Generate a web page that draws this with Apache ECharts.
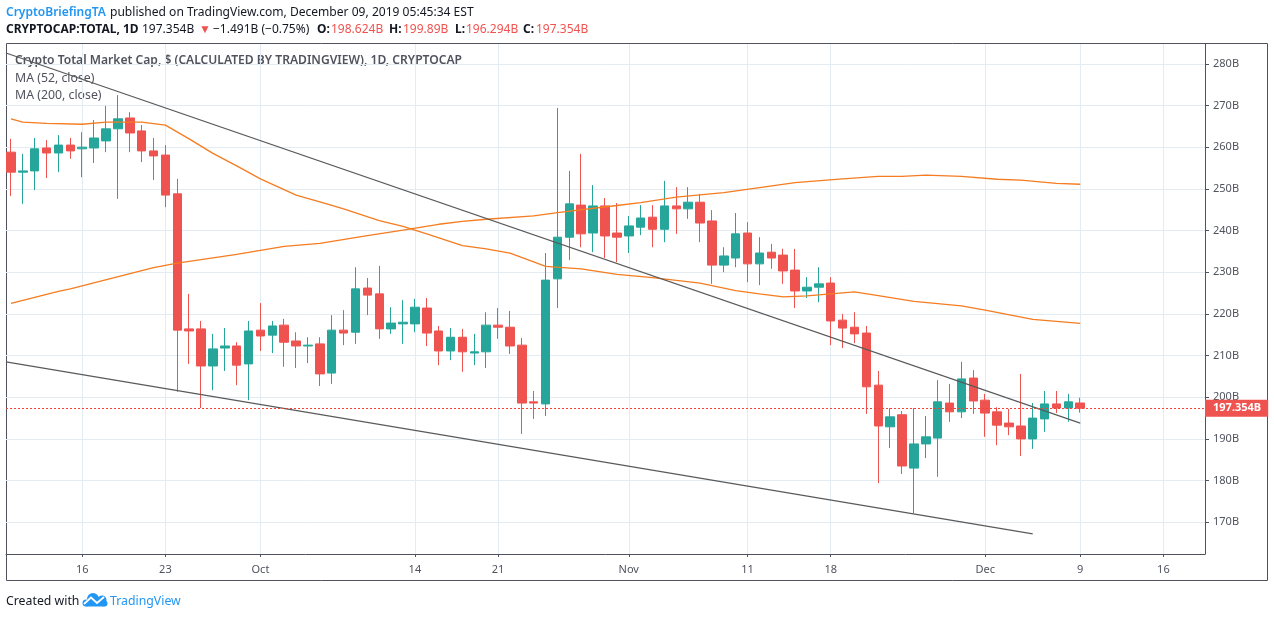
<!DOCTYPE html>
<html>
<head>
<meta charset="utf-8">
<title>Crypto Total Market Cap</title>
<script src="https://cdn.jsdelivr.net/npm/echarts@6/dist/echarts.min.js"></script>
<style>
  html, body { margin: 0; padding: 0; background: #fff; }
  #chart { width: 1274px; height: 618px; }
</style>
</head>
<body>
<div id="chart"></div>
<script>
// daily candles, 10 Sep - 9 Dec 2019, one entry per day
var firstDay = '2019-09-10';
var opens = [258.8, 254.0, 254.3, 259.8, 258.6, 260.5, 259.6, 259.8, 261.5, 264.4, 267.0, 263.9, 259.1, 258.1, 248.8,
  216.4, 216.4, 207.5, 211.8, 212.3, 208.0, 216.1, 214.9, 217.3, 213.5, 212.3, 212.8, 205.8, 216.1, 215.6,
  226.2, 224.8, 216.4, 217.6, 217.6, 221.4, 215.9, 211.1, 214.4, 210.6, 210.9, 217.3, 216.8, 212.5, 198.9,
  198.4, 228.4, 238.4, 246.1, 239.4, 245.9, 239.4, 238.7, 240.8, 243.2, 240.3, 245.9, 245.2, 246.8, 242.3,
  231.7, 233.4, 239.4, 232.0, 234.8, 234.1, 230.5, 225.5, 226.4, 227.4, 218.5, 216.8, 215.4, 202.9, 192.9,
  195.8, 183.0, 188.8, 190.2, 198.6, 196.5, 204.6, 199.3, 196.5, 193.8, 193.1, 190.0, 194.8, 198.4, 197.4, 198.624];
var closes = [254.0, 254.3, 259.6, 258.6, 260.5, 259.1, 260.0, 262.2, 264.4, 266.8, 263.4, 259.1, 257.9, 248.5, 216.1,
  215.9, 207.5, 211.6, 212.3, 207.7, 215.9, 214.7, 217.1, 213.2, 212.3, 212.5, 205.6, 216.1, 215.4, 226.0,
  224.5, 216.4, 217.8, 218.0, 221.6, 215.4, 211.1, 214.4, 210.9, 210.9, 217.3, 216.8, 212.3, 198.6, 198.6,
  228.1, 238.4, 246.4, 239.2, 245.9, 238.7, 238.4, 241.1, 243.0, 240.3, 245.9, 245.2, 246.8, 241.8, 231.7,
  233.9, 239.2, 232.0, 234.6, 233.4, 230.3, 225.5, 226.4, 227.2, 218.3, 216.6, 215.2, 202.5, 193.1, 195.3,
  183.5, 188.8, 190.5, 198.9, 196.5, 204.4, 199.1, 196.2, 193.3, 192.9, 190.0, 195.0, 198.4, 197.4, 198.9, 197.354];
var lows = [248.3, 246.4, 249.7, 252.6, 254.0, 257.2, 252.8, 256.2, 258.8, 247.6, 258.8, 256.4, 252.1, 245.6, 201.3,
  208.0, 197.4, 201.7, 206.3, 202.9, 199.3, 211.1, 210.6, 207.3, 207.0, 208.2, 202.7, 203.2, 212.5, 212.8,
  219.7, 214.0, 215.2, 212.8, 215.6, 212.3, 207.7, 208.9, 206.1, 207.7, 207.0, 214.0, 210.4, 191.2, 194.8,
  195.5, 221.4, 232.9, 236.0, 234.8, 233.4, 232.4, 234.6, 238.9, 236.0, 237.2, 239.2, 242.8, 237.2, 227.2,
  230.0, 231.2, 227.6, 226.9, 230.8, 227.2, 221.4, 223.8, 222.8, 212.5, 211.8, 213.0, 196.0, 179.4, 187.8,
  181.6, 172.2, 185.4, 180.9, 194.1, 195.0, 196.0, 190.5, 188.5, 190.9, 185.9, 187.6, 191.7, 196.2, 194.1, 196.294];
var highs = [262.0, 258.4, 262.2, 261.7, 262.9, 262.2, 263.6, 266.5, 269.9, 272.5, 268.4, 265.3, 262.2, 260.5, 252.4,
  224.8, 218.3, 215.2, 216.6, 213.2, 218.3, 222.6, 218.3, 218.8, 215.6, 214.4, 214.4, 219.7, 220.9, 231.2,
  228.6, 231.5, 221.6, 223.3, 223.6, 223.8, 217.1, 216.6, 216.4, 215.2, 220.4, 221.4, 220.7, 214.2, 201.5,
  234.6, 269.4, 254.3, 258.4, 250.9, 247.8, 246.6, 243.5, 246.1, 246.1, 251.9, 250.4, 250.4, 248.8, 244.9,
  236.0, 244.2, 242.0, 238.4, 236.8, 235.6, 235.6, 228.8, 231.2, 228.8, 220.0, 220.4, 217.1, 206.3, 197.4,
  196.7, 197.4, 195.5, 204.1, 203.2, 208.5, 206.5, 200.8, 197.6, 197.2, 205.6, 198.6, 201.5, 201.5, 200.8, 199.89];

// moving averages, read at the listed day numbers (0 = 10 Sep)
var ma52Days = [0, 1, 3, 6, 8, 11, 13, 15, 17, 19, 21, 24, 26, 28, 31, 33, 35, 38, 40, 42, 44, 45, 48, 51, 54,
  58, 61, 63, 65, 67, 69, 71, 73, 76, 80, 82, 86, 90];
var ma52 = [266.8, 266.0, 265.7, 265.5, 266.0, 266.0, 265.3, 262.0, 258.5, 255.5, 252.4, 248.5, 246.9, 245.2, 242.4,
  241.0, 239.2, 236.4, 235.6, 234.6, 232.5, 231.4, 230.8, 229.5, 228.7, 227.4, 225.6, 224.8, 224.1, 224.3, 224.8,
  225.3, 224.4, 223.0, 221.9, 220.9, 218.7, 217.7];
var ma200Days = [0, 4, 5, 12, 14, 19, 23, 26, 30, 33, 36, 38, 40, 44, 46, 51, 53, 56, 60, 63, 66, 70, 73, 75, 77,
  80, 83, 85, 88, 90];
var ma200 = [222.5, 225.4, 226.0, 231.1, 232.2, 234.3, 236.2, 236.9, 238.8, 240.1, 241.5, 242.2, 242.7, 243.5, 244.3,
  246.0, 246.7, 248.0, 249.1, 250.3, 251.5, 252.4, 253.0, 253.0, 253.3, 253.0, 252.3, 252.1, 251.3, 251.1];

// the two hand drawn trend lines
var upperTrendTimes = ['2019-09-09T14:00:00Z', '2019-12-09T00:00:00Z'];
var upperTrend = [282.6, 193.8];
var lowerTrendTimes = ['2019-09-09T14:00:00Z', '2019-12-05T00:00:00Z'];
var lowerTrend = [208.5, 167.2];

var lastPrice = 197.354;
var priceTicks = [170, 180, 190, 200, 210, 220, 230, 240, 250, 260, 270, 280];
var dateTicks = ['2019-09-16', '2019-09-23', '2019-10-01', '2019-10-14', '2019-10-21', '2019-11-01',
  '2019-11-11', '2019-11-18', '2019-12-01', '2019-12-09', '2019-12-16'];
var dateTickLabels = ['16', '23', 'Oct', '14', '21', 'Nov', '11', '18', 'Dec', '9', '16'];

var DAY = 86400000;
var FONT = '"Noto Sans", sans-serif';
var UP = '#26a69a';
var DOWN = '#ef5350';
var INK = '#50535e';
var BLUE = '#2196f3';

function toMs (s) {
  return Date.parse(s.length > 10 ? s : s + 'T00:00:00Z');
}

var dayMs = opens.map(function (v, i) { return toMs(firstDay) + i * DAY; });
var candles = opens.map(function (v, i) {
  return [dayMs[i], opens[i], closes[i], lows[i], highs[i]];
});
var tickMs = dateTicks.map(toMs);

function maData (days, values) {
  return days.map(function (d, i) { return [dayMs[d], values[i]]; });
}
function trendData (times, values) {
  return times.map(function (t, i) { return [toMs(t), values[i]]; });
}
function lineSeries (name, data, color, width) {
  return {
    name: name,
    type: 'line',
    data: data,
    symbol: 'none',
    silent: true,
    lineStyle: { color: color, width: width }
  };
}
function label (x, y, text, color, weight, size) {
  return {
    type: 'text',
    x: x,
    y: y,
    silent: true,
    style: {
      text: text,
      fill: color || '#131722',
      font: (weight || 'normal') + ' ' + (size || 12) + 'px ' + FONT,
      textVerticalAlign: 'middle'
    }
  };
}
function blob (cx, cy, r) {
  return { type: 'circle', silent: true, shape: { cx: cx, cy: cy, r: r }, style: { fill: BLUE } };
}

var chart = echarts.init(document.getElementById('chart'), null, { renderer: 'canvas' });
chart.setOption({
  animation: false,
  backgroundColor: '#fff',
  textStyle: { fontFamily: FONT },
  grid: { left: 6, top: 44, width: 1199, height: 510, containLabel: false },
  xAxis: {
    type: 'value',
    scale: true,
    min: toMs('2019-09-09T14:00:00Z'),
    max: toMs('2019-12-19T12:00:00Z'),
    axisLine: { onZero: false, lineStyle: { color: INK, width: 1 } },
    axisTick: { show: true, customValues: tickMs, length: 3, lineStyle: { color: INK } },
    axisLabel: {
      customValues: tickMs,
      color: INK,
      fontSize: 11,
      margin: 10,
      hideOverlap: false,
      formatter: function (v) { return dateTickLabels[tickMs.indexOf(v)]; }
    },
    splitLine: { show: true, lineStyle: { color: '#e3ecf2', width: 1 } }
  },
  yAxis: {
    type: 'value',
    position: 'right',
    min: 162.39,
    max: 284.75,
    axisLine: { show: true, lineStyle: { color: INK, width: 1 } },
    axisTick: { show: true, customValues: priceTicks, length: 4, lineStyle: { color: INK } },
    axisLabel: {
      customValues: priceTicks,
      color: INK,
      fontSize: 11,
      margin: 8,
      padding: [2, 0, 0, 0],
      formatter: '{value}B'
    },
    splitLine: { show: true, lineStyle: { color: '#e3ecf2', width: 1 } }
  },
  series: [
    {
      name: 'TOTAL',
      type: 'candlestick',
      data: candles,
      barWidth: 9,
      silent: true,
      itemStyle: {
        color: UP,
        color0: DOWN,
        borderColor: UP,
        borderColor0: DOWN,
        borderWidth: 1
      },
      markLine: {
        silent: true,
        symbol: 'none',
        z: 10,
        data: [{ yAxis: lastPrice }],
        lineStyle: { color: '#f44336', type: [2, 2], width: 1 },
        label: {
          position: 'end',
          distance: 0,
          formatter: lastPrice + 'B',
          color: '#fff',
          fontFamily: FONT,
          fontWeight: 'bold',
          fontSize: 11,
          backgroundColor: DOWN,
          padding: [3, 7, 3, 8]
        }
      }
    },
    lineSeries('MA (52, close)', maData(ma52Days, ma52), '#f57c20', 1.3),
    lineSeries('MA (200, close)', maData(ma200Days, ma200), '#f57c20', 1.3),
    lineSeries('upper trend', trendData(upperTrendTimes, upperTrend), '#5a5a5a', 1.2),
    lineSeries('lower trend', trendData(lowerTrendTimes, lowerTrend), '#5a5a5a', 1.2)
  ],
  graphic: [
    // outer frame of the price and date scales
    {
      type: 'rect',
      silent: true,
      z: -1,
      shape: { x: 6.5, y: 43.5, width: 1261, height: 537 },
      style: { fill: 'none', stroke: INK, lineWidth: 1 }
    },
    label(6, 13, 'CryptoBriefingTA', BLUE, '600'),
    label(110, 13, 'published on TradingView.com, December 09, 2019 05:45:34 EST', null, null, 12.07),
    label(6, 30, 'CRYPTOCAP:TOTAL, 1D', null, 'bold'),
    label(142, 30, '197.354B'),
    label(199, 30, '▼', DOWN),
    label(213, 30, '−1.491B (−0.75%)'),
    label(317, 30, 'O:', null, 'bold'),
    label(331, 30, '198.624B', DOWN),
    label(389, 30, 'H:', null, 'bold'),
    label(403, 30, '199.89B', DOWN),
    label(455, 30, 'L:', null, 'bold'),
    label(466, 30, '196.294B', DOWN),
    label(523, 30, 'C:', null, 'bold'),
    label(536, 30, '197.354B', DOWN),
    label(15, 61, 'Crypto Total Market Cap, $ (CALCULATED BY TRADINGVIEW), 1D, CRYPTOCAP', INK, '600', 12.1),
    label(15, 78, 'MA (52, close)', INK, null, 12.3),
    label(15, 95, 'MA (200, close)', INK, null, 12.3),
    label(6, 601, 'Created with', null, null, 12.3),
    // TradingView cloud
    blob(86, 603, 3.5),
    blob(93, 599, 6),
    blob(102, 600, 4.5),
    blob(104.5, 603.5, 3),
    { type: 'rect', silent: true, shape: { x: 86, y: 601, width: 18.5, height: 5.5 }, style: { fill: BLUE } },
    {
      type: 'polyline',
      silent: true,
      shape: { points: [[84, 604], [91, 597.5], [97, 603], [104, 597]] },
      style: { fill: 'none', stroke: '#fff', lineWidth: 1.8 }
    },
    label(110, 601, 'TradingView', BLUE, null, 12.3)
  ]
});
</script>
</body>
</html>
